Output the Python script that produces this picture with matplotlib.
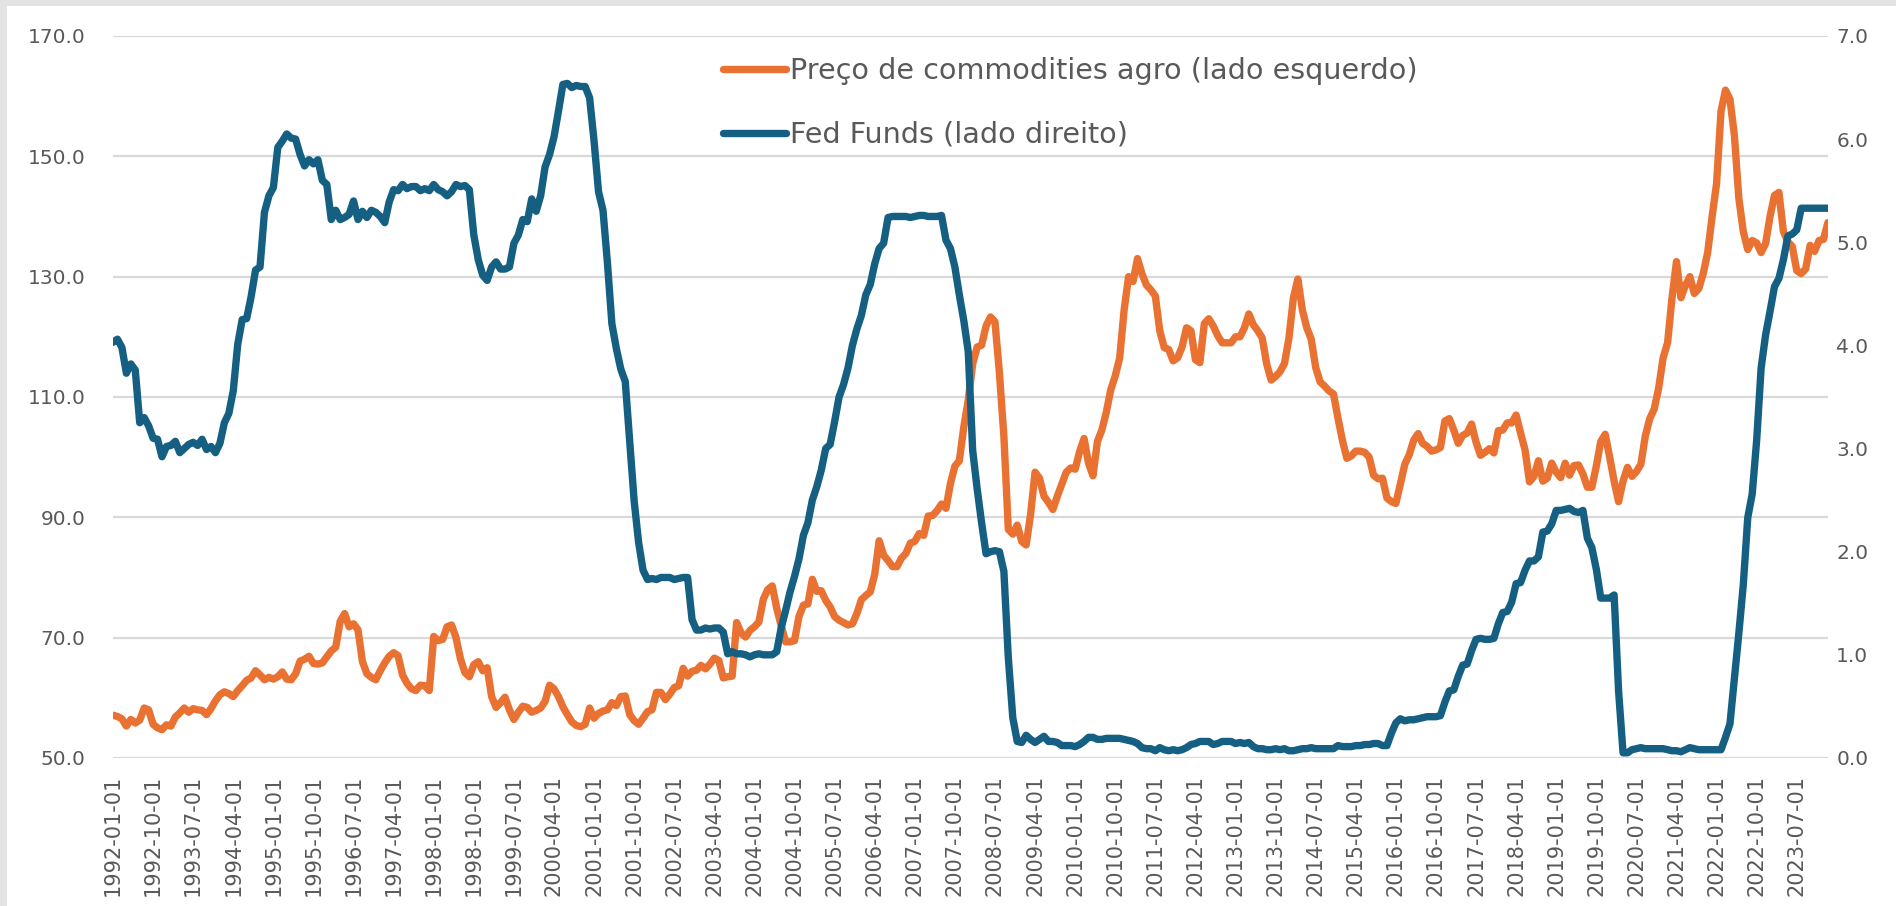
import numpy as np
import pandas as pd
import matplotlib.pyplot as plt
from matplotlib.patches import Rectangle

# Preço de commodities agro (índice, eixo esquerdo), mensal desde 1992-01
agro = [
    57.1, 56.9, 56.5, 55.3, 56.4, 55.8, 56.3, 58.3, 58.0, 55.6, 55.0, 54.7,
    55.5, 55.3, 56.8, 57.5, 58.3, 57.6, 58.2, 58.0, 57.9, 57.2, 58.2, 59.5,
    60.5, 61.0, 60.7, 60.2, 61.2, 62.0, 62.9, 63.3, 64.5, 63.8, 63.0, 63.4,
    63.1, 63.5, 64.3, 63.1, 63.0, 64.0, 66.1, 66.4, 66.9, 65.7, 65.6, 65.8,
    66.8, 67.8, 68.4, 72.7, 74.0, 71.8, 72.3, 71.3, 66.0, 64.0, 63.4, 63.0,
    64.5, 65.8, 66.9, 67.5, 67.0, 63.8, 62.4, 61.5, 61.2, 62.1, 62.0, 61.2,
    70.2, 69.5, 69.7, 71.8, 72.1, 70.0, 66.5, 64.2, 63.5, 65.5, 66.0, 64.5,
    65.0, 60.2, 58.4, 59.2, 60.1, 58.0, 56.4, 57.6, 58.6, 58.4, 57.6, 57.9,
    58.3, 59.4, 62.1, 61.5, 60.2, 58.5, 57.2, 56.0, 55.4, 55.2, 55.6, 58.3,
    56.6, 57.4, 57.8, 58.0, 59.2, 58.7, 60.2, 60.3, 57.2, 56.2, 55.6, 56.6,
    57.7, 58.0, 60.9, 60.9, 59.7, 60.6, 61.7, 62.0, 64.9, 63.6, 64.4, 64.6,
    65.4, 64.8, 65.6, 66.6, 66.2, 63.3, 63.5, 63.6, 72.5, 70.8, 70.1, 71.2,
    71.8, 72.6, 76.4, 78.0, 78.6, 74.9, 72.0, 69.3, 69.3, 69.5, 73.5, 75.4,
    75.6, 79.7, 77.7, 77.8, 76.2, 75.1, 73.5, 72.9, 72.5, 72.1, 72.3, 74.0,
    76.3, 77.0, 77.6, 80.5, 86.1, 83.7, 82.8, 81.8, 81.8, 83.2, 84.0, 85.7,
    86.0, 87.3, 87.0, 90.2, 90.3, 91.1, 92.2, 91.5, 95.6, 98.5, 99.4, 105.0,
    109.5, 115.5, 118.3, 118.6, 121.8, 123.3, 122.5, 114.0, 103.5, 88.0, 87.2, 88.7,
    86.0, 85.4, 90.5, 97.5, 96.5, 93.5, 92.5, 91.3, 93.5, 95.5, 97.5, 98.2,
    98.0, 100.9, 103.1, 99.0, 96.9, 102.6, 104.5, 107.5, 111.2, 113.5, 116.5, 124.5,
    130.0, 129.2, 133.0, 130.5, 128.6, 127.8, 126.8, 121.0, 118.2, 117.9, 116.0, 116.5,
    118.3, 121.5, 121.0, 116.2, 115.7, 122.2, 123.0, 121.8, 120.2, 119.0, 119.0, 119.0,
    120.0, 120.0, 121.5, 123.8, 122.0, 121.0, 119.8, 115.5, 112.8, 113.4, 114.2, 115.6,
    119.8, 126.5, 129.6, 124.5, 121.5, 119.6, 114.9, 112.5, 111.8, 111.0, 110.5, 106.5,
    102.8, 99.8, 100.2, 101.0, 101.0, 100.8, 100.0, 97.0, 96.4, 96.5, 93.2, 92.6,
    92.3, 95.5, 98.8, 100.4, 102.8, 103.9, 102.3, 101.8, 101.0, 101.2, 101.6, 106.0,
    106.4, 104.5, 102.3, 103.6, 104.0, 105.5, 102.5, 100.3, 100.8, 101.4, 100.7, 104.4,
    104.5, 105.7, 105.7, 107.0, 104.0, 101.2, 95.9, 96.8, 99.4, 96.0, 96.5, 99.0,
    97.5, 96.6, 99.0, 97.0, 98.6, 98.7, 97.2, 95.0, 95.0, 98.5, 102.6, 103.8,
    100.0, 96.0, 92.6, 96.0, 98.3, 96.8, 97.6, 98.8, 103.5, 106.4, 108.0, 111.5,
    116.5, 119.0, 126.5, 132.5, 126.5, 128.5, 130.0, 127.2, 128.0, 130.5, 134.0, 140.0,
    145.5, 157.5, 161.0, 159.5, 153.5, 143.0, 137.5, 134.5, 136.0, 135.6, 134.0, 135.5,
    140.0, 143.5, 144.0, 137.5, 135.8, 135.0, 131.0, 130.5, 131.3, 135.2, 134.2, 136.0,
    136.2, 139.0,
]

# Fed Funds (% a.a., eixo direito)
fed_funds = [
    4.03, 4.06, 3.98, 3.73, 3.82, 3.76, 3.25, 3.30, 3.22, 3.10, 3.09, 2.92,
    3.02, 3.03, 3.07, 2.96, 3.00, 3.04, 3.06, 3.03, 3.09, 2.99, 3.02, 2.96,
    3.05, 3.25, 3.34, 3.56, 4.01, 4.25, 4.26, 4.47, 4.73, 4.76, 5.29, 5.45,
    5.53, 5.92, 5.98, 6.05, 6.01, 6.00, 5.85, 5.74, 5.80, 5.76, 5.80, 5.60,
    5.56, 5.22, 5.31, 5.22, 5.24, 5.27, 5.40, 5.22, 5.30, 5.24, 5.31, 5.29,
    5.25, 5.19, 5.39, 5.51, 5.50, 5.56, 5.52, 5.54, 5.54, 5.50, 5.52, 5.50,
    5.56, 5.51, 5.49, 5.45, 5.49, 5.56, 5.54, 5.55, 5.51, 5.07, 4.83, 4.68,
    4.63, 4.76, 4.81, 4.74, 4.74, 4.76, 4.99, 5.07, 5.22, 5.20, 5.42, 5.30,
    5.45, 5.73, 5.85, 6.02, 6.27, 6.53, 6.54, 6.50, 6.52, 6.51, 6.51, 6.40,
    5.98, 5.49, 5.31, 4.80, 4.21, 3.97, 3.77, 3.65, 3.07, 2.49, 2.09, 1.82,
    1.73, 1.74, 1.73, 1.75, 1.75, 1.75, 1.73, 1.74, 1.75, 1.75, 1.34, 1.24,
    1.24, 1.26, 1.25, 1.26, 1.26, 1.22, 1.01, 1.03, 1.01, 1.01, 1.00, 0.98,
    1.00, 1.01, 1.00, 1.00, 1.00, 1.03, 1.26, 1.43, 1.61, 1.76, 1.93, 2.16,
    2.28, 2.50, 2.63, 2.79, 3.00, 3.04, 3.26, 3.50, 3.62, 3.78, 4.00, 4.16,
    4.29, 4.49, 4.59, 4.79, 4.94, 4.99, 5.24, 5.25, 5.25, 5.25, 5.25, 5.24,
    5.25, 5.26, 5.26, 5.25, 5.25, 5.25, 5.26, 5.02, 4.94, 4.76, 4.49, 4.24,
    3.94, 2.98, 2.61, 2.28, 1.98, 2.00, 2.01, 2.00, 1.81, 0.97, 0.39, 0.16,
    0.15, 0.22, 0.18, 0.15, 0.18, 0.21, 0.16, 0.16, 0.15, 0.12, 0.12, 0.12,
    0.11, 0.13, 0.16, 0.20, 0.20, 0.18, 0.18, 0.19, 0.19, 0.19, 0.19, 0.18,
    0.17, 0.16, 0.14, 0.10, 0.09, 0.09, 0.07, 0.10, 0.08, 0.07, 0.08, 0.07,
    0.08, 0.10, 0.13, 0.14, 0.16, 0.16, 0.16, 0.13, 0.14, 0.16, 0.16, 0.16,
    0.14, 0.15, 0.14, 0.15, 0.11, 0.09, 0.09, 0.08, 0.08, 0.09, 0.08, 0.09,
    0.07, 0.07, 0.08, 0.09, 0.09, 0.10, 0.09, 0.09, 0.09, 0.09, 0.09, 0.12,
    0.11, 0.11, 0.11, 0.12, 0.12, 0.13, 0.13, 0.14, 0.14, 0.12, 0.12, 0.24,
    0.34, 0.38, 0.36, 0.37, 0.37, 0.38, 0.39, 0.40, 0.40, 0.40, 0.41, 0.54,
    0.65, 0.66, 0.79, 0.90, 0.91, 1.04, 1.15, 1.16, 1.15, 1.15, 1.16, 1.30,
    1.41, 1.42, 1.51, 1.69, 1.70, 1.82, 1.91, 1.91, 1.95, 2.19, 2.20, 2.27,
    2.40, 2.40, 2.41, 2.42, 2.39, 2.38, 2.40, 2.13, 2.04, 1.83, 1.55, 1.55,
    1.55, 1.58, 0.65, 0.05, 0.05, 0.08, 0.09, 0.10, 0.09, 0.09, 0.09, 0.09,
    0.09, 0.08, 0.07, 0.07, 0.06, 0.08, 0.10, 0.09, 0.08, 0.08, 0.08, 0.08,
    0.08, 0.08, 0.20, 0.33, 0.77, 1.21, 1.68, 2.33, 2.56, 3.08, 3.78, 4.10,
    4.33, 4.57, 4.65, 4.83, 5.06, 5.08, 5.12, 5.33, 5.33, 5.33, 5.33, 5.33,
    5.33, 5.33,
]

dates = pd.date_range("1992-01-01", periods=len(agro), freq="MS")
tick_step = 9

left_ticks = [50, 70, 90, 110, 130, 150, 170]
right_ticks = [0, 1, 2, 3, 4, 5, 6, 7]

c_agro = "#E97132"
c_fed = "#156082"
c_text = "#595959"
c_grid = "#D9D9D9"

plt.rcParams["font.family"] = ["DejaVu Sans"]

fig = plt.figure(figsize=(18.96, 9.06), dpi=100)
fig.patch.set_facecolor("#E3E3E3")
# fundo branco, deixando a borda cinza em cima e à esquerda
fig.patches.append(Rectangle((7 / 1896, 0), 1, 1 - 6 / 906, transform=fig.transFigure,
                             facecolor="white", edgecolor="none", zorder=-10))

ax = fig.add_axes([0.0596, 0.1634, 0.9045, 0.7969])
ax.set_facecolor("none")
x = np.arange(len(agro))

ax.plot(x, agro, color=c_agro, lw=5.3, solid_joinstyle="round", solid_capstyle="round",
        label="Preço de commodities agro (lado esquerdo)")
ax.set_ylim(50, 170)
ax.set_yticks(left_ticks)
ax.set_yticklabels([f"{t:.1f}" for t in left_ticks])
ax.grid(axis="y", color=c_grid, lw=1.6)
ax.set_axisbelow(True)
ax.set_xlim(0, len(agro) - 1)
ax.set_xticks(x[::tick_step])
ax.set_xticklabels([d.strftime("%Y-%m-%d") for d in dates[::tick_step]], rotation=90)

ax2 = ax.twinx()
ax2.set_facecolor("none")
ax2.plot(x, fed_funds, color=c_fed, lw=5.3, solid_joinstyle="round", solid_capstyle="round",
         label="Fed Funds (lado direito)")
ax2.set_ylim(0, 7)
ax2.set_yticks(right_ticks)
ax2.set_yticklabels([f"{t:.1f}" for t in right_ticks])

for a in (ax, ax2):
    for s in a.spines.values():
        s.set_visible(False)
    a.tick_params(length=0, colors=c_text)
ax.tick_params(axis="y", labelsize=14.5, pad=20)
ax.tick_params(axis="x", labelsize=15, pad=12)
ax2.tick_params(axis="y", labelsize=14.5, pad=6)

h1, l1 = ax.get_legend_handles_labels()
h2, l2 = ax2.get_legend_handles_labels()
leg = ax2.legend(h1 + h2, l1 + l2, loc="upper left", bbox_to_anchor=(0.3557, 0.971),
                 frameon=False, fontsize=20.6, handlelength=2.2, handletextpad=0.15,
                 labelspacing=1.25, borderpad=0, borderaxespad=0)
for t in leg.get_texts():
    t.set_color(c_text)

fig.savefig("out.png", dpi=100, facecolor=fig.get_facecolor())
